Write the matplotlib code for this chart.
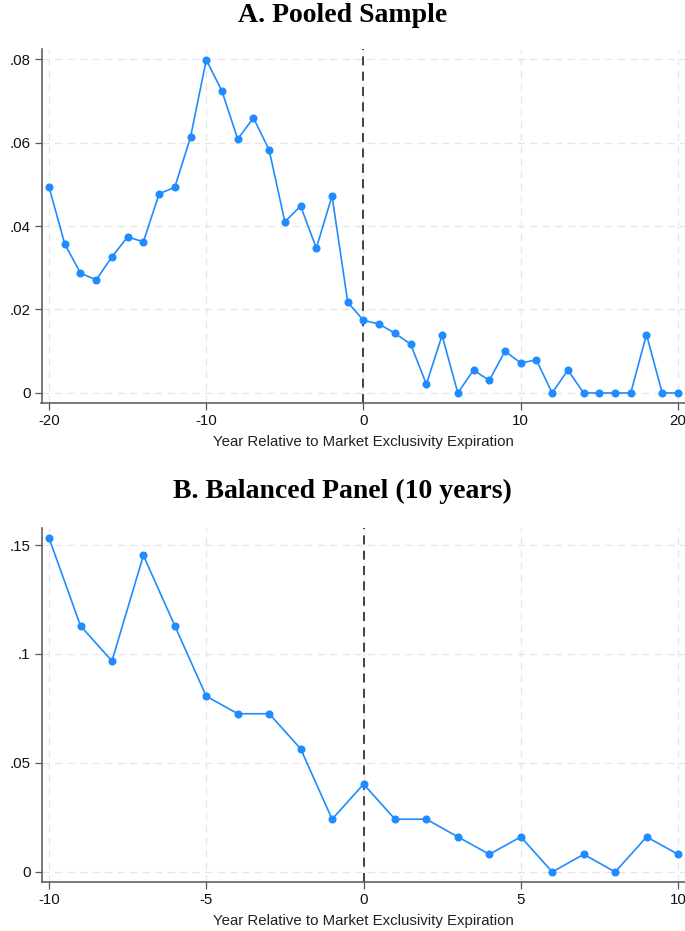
import matplotlib
matplotlib.use("Agg")
import matplotlib.pyplot as plt

# Panel A: pooled sample
years_a = list(range(-20, 21))
share_a = [0.0493, 0.0357, 0.0287, 0.0271, 0.0326, 0.0374, 0.0362, 0.0477, 0.0493,
           0.0613, 0.0798, 0.0723, 0.0608, 0.0659, 0.0582, 0.0410, 0.0448, 0.0347,
           0.0472, 0.0217, 0.0174, 0.0165, 0.0143, 0.0117, 0.0021, 0.0138, 0.0,
           0.0055, 0.0030, 0.0100, 0.0072, 0.0079, 0.0, 0.0055, 0.0, 0.0, 0.0, 0.0,
           0.0140, 0.0, 0.0]
xticks_a = [-20, -10, 0, 10, 20]
yticks_a = [0, 0.02, 0.04, 0.06, 0.08]
ylabels_a = ["0", ".02", ".04", ".06", ".08"]

# Panel B: balanced panel (10 years)
years_b = list(range(-10, 11))
share_b = [0.1532, 0.1129, 0.0968, 0.1452, 0.1129, 0.0806, 0.0726, 0.0726, 0.0565,
           0.0242, 0.0403, 0.0242, 0.0242, 0.0161, 0.0081, 0.0161, 0.0, 0.0081, 0.0,
           0.0161, 0.0081]
xticks_b = [-10, -5, 0, 5, 10]
yticks_b = [0, 0.05, 0.10, 0.15]
ylabels_b = ["0", ".05", ".1", ".15"]

titles = ["A. Pooled Sample", "B. Balanced Panel (10 years)"]
xlabel = "Year Relative to Market Exclusivity Expiration"

W, H = 685, 931
fig = plt.figure(figsize=(W / 100, H / 100), dpi=100)
fig.patch.set_facecolor("white")

line_color = "#1E8CFF"
sans = ["Liberation Sans", "DejaVu Sans"]
serif = ["Liberation Serif", "DejaVu Serif"]


def px_axes(left, top, right, bottom):
    return fig.add_axes([left / W, 1 - bottom / H, (right - left) / W, (bottom - top) / H])


def draw_panel(ax, x, y, xticks, yticks, ylabels, xlim, ylim, title, title_base):
    ax.set_facecolor("white")
    for t in xticks:
        ax.axvline(t, color="#e6e6e6", lw=0.9, ls=(0, (6, 4)), zorder=0)
    for t in yticks:
        ax.axhline(t, color="#e6e6e6", lw=0.9, ls=(0, (6, 4)), zorder=0)
    ax.axvline(0, color="#333333", lw=1.3, ls=(0, (5, 3.5)), zorder=1)
    ax.plot(x, y, color=line_color, lw=1.2, marker="o", ms=4.8,
            markerfacecolor=line_color, markeredgecolor=line_color, zorder=3)
    ax.set_xlim(*xlim)
    ax.set_ylim(*ylim)
    ax.set_xticks(xticks)
    ax.set_xticklabels([str(t) for t in xticks], fontfamily=sans, fontsize=10.8)
    ax.set_yticks(yticks)
    ax.set_yticklabels(ylabels, fontfamily=sans, fontsize=10.8)
    ax.tick_params(axis="both", direction="out", length=5, width=0.9, color="#555555",
                   labelcolor="#111111", pad=3)
    for side in ["top", "right"]:
        ax.spines[side].set_visible(False)
    for side in ["left", "bottom"]:
        ax.spines[side].set_color("#555555")
        ax.spines[side].set_linewidth(1.1)
    ax.set_xlabel(xlabel, fontfamily=sans, fontsize=10.8, color="#222222", labelpad=5)
    fig.text(0.5, 1 - title_base / H, title, ha="center", va="baseline",
             fontfamily=serif, fontweight="bold", fontsize=20)


ax_a = px_axes(41.5, 49, 685, 403)
draw_panel(ax_a, years_a, share_a, xticks_a, yticks_a, ylabels_a,
           (-20.48, 20.45), (-0.0024, 0.0824), titles[0], 22)

ax_b = px_axes(41.5, 528, 685, 882)
draw_panel(ax_b, years_b, share_b, xticks_b, yticks_b, ylabels_b,
           (-10.24, 10.22), (-0.0046, 0.1578), titles[1], 498.5)

fig.savefig("out.png", dpi=100, facecolor="white")
